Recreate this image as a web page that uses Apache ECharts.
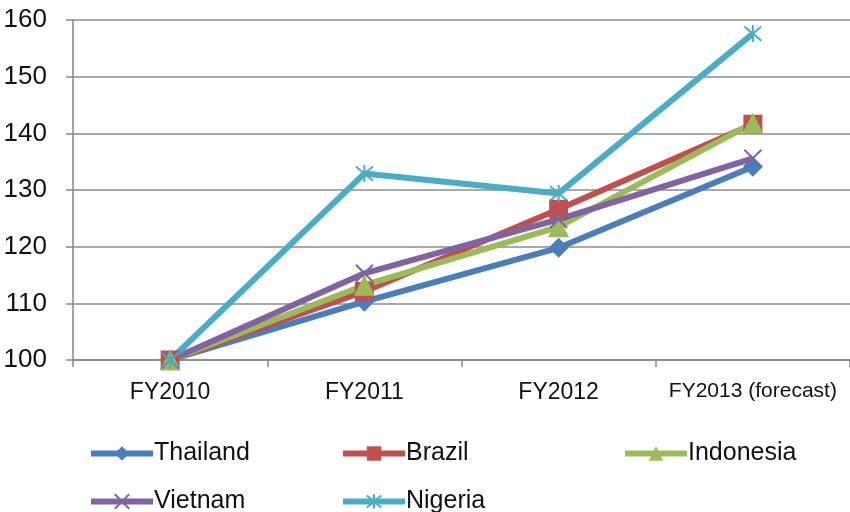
<!DOCTYPE html>
<html>
<head>
<meta charset="utf-8">
<script src="https://cdn.jsdelivr.net/npm/echarts@6/dist/echarts.min.js"></script>
<style>
  html, body { margin: 0; padding: 0; background: #fff; }
  #chart { width: 850px; height: 512px; }
</style>
</head>
<body>
<div id="chart"></div>
<script>
// categories and index values (FY2010 = 100)
const years = ['FY2010', 'FY2011', 'FY2012', 'FY2013 (forecast)']
const thailand = [100, 110.3, 119.8, 134.1]
const brazil = [100, 112.1, 126.6, 141.6]
const indonesia = [100, 113.2, 123.5, 141.8]
const vietnam = [100, 115.3, 124.8, 135.6]
const nigeria = [100, 132.9, 129.4, 157.6]

const font = '"Liberation Sans", Arial, sans-serif'
const xMark = 'path://M0,0L10,10M10,0L0,10'
const starMark = 'path://M0,0L10,10M10,0L0,10M5,-1L5,11'

const mk = (name, data, color, symbol, size, stroke) => ({
  name, data, type: 'line',
  symbol, symbolSize: size,
  lineStyle: { color, width: 6 },
  itemStyle: stroke
    ? { color: 'transparent', borderColor: color, borderWidth: 2 }
    : { color },
  emphasis: { disabled: true }
})

const legendAt = (name, left, top) => ({
  data: [name], left, top,
  itemWidth: 62, itemHeight: 18, itemGap: 0,
  lineStyle: { width: 6 },
  textStyle: { fontSize: 25, color: '#111', fontFamily: font, padding: [0, 0, 0, -4] }
})

const chart = echarts.init(document.getElementById('chart'))
chart.setOption({
  animation: false,
  grid: { left: 73, top: 20, width: 784, height: 340, containLabel: false },
  legend: [
    legendAt('Thailand', 83, 436),
    legendAt('Brazil', 335, 436),
    legendAt('Indonesia', 617, 436),
    legendAt('Vietnam', 83, 484),
    legendAt('Nigeria', 335, 484)
  ],
  xAxis: {
    type: 'category',
    boundaryGap: true,
    data: years.map((y, i) => i === 3 ? { value: y, textStyle: { fontSize: 21 } } : y),
    axisLine: { lineStyle: { color: '#868686', width: 1.5 } },
    axisTick: { show: true, length: 7, lineStyle: { color: '#868686', width: 1.5 } },
    axisLabel: { fontSize: 23, color: '#111', margin: 21, fontFamily: font, interval: 0 }
  },
  yAxis: {
    type: 'value', min: 100, max: 160, interval: 10,
    axisLine: { show: true, lineStyle: { color: '#868686', width: 1.5 } },
    axisTick: { show: true, length: 7, lineStyle: { color: '#868686', width: 1.5 } },
    splitLine: { lineStyle: { color: '#8c8c8c', width: 1.5 } },
    axisLabel: { fontSize: 26, color: '#111', margin: 26, fontFamily: font }
  },
  series: [
    mk('Thailand', thailand, '#4a7ebb', 'diamond', 20, false),
    mk('Brazil', brazil, '#c0504d', 'rect', 19, false),
    mk('Indonesia', indonesia, '#9bbb59', 'triangle', 21, false),
    mk('Vietnam', vietnam, '#8064a2', xMark, 17, true),
    mk('Nigeria', nigeria, '#4bacc6', starMark, 17, true)
  ]
})
</script>
</body>
</html>
